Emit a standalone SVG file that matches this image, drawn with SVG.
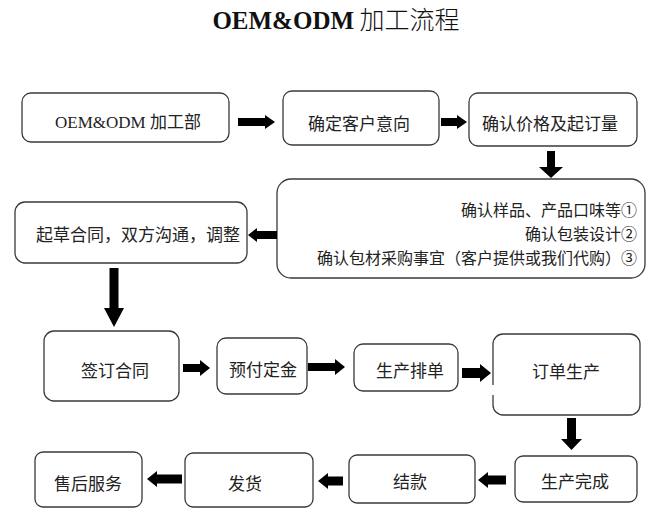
<svg xmlns="http://www.w3.org/2000/svg" width="653" height="512" viewBox="0 0 653 512">
<style>
.box{fill:#fff;stroke:#3a3a3a;stroke-width:1.3}
.t{font-family:"Noto Sans CJK SC","Liberation Serif",sans-serif;font-size:17px;fill:#222;dominant-baseline:central;text-anchor:middle}
.r{text-anchor:end;font-size:16px}
.arr{fill:#000}
</style>
<rect width="653" height="512" fill="#fff"/>
<text x="336" y="29" text-anchor="middle" font-size="25" fill="#111"><tspan font-family="Liberation Serif,serif" font-weight="bold">OEM&amp;ODM</tspan><tspan font-family="Noto Sans CJK SC,sans-serif" font-weight="300"> 加工流程</tspan></text>

<g id="n1"><rect class="box" x="22" y="93" width="207" height="49" rx="9"/><text x="128" y="128" text-anchor="middle" font-size="17" fill="#222"><tspan font-family="Liberation Serif,serif">OEM&amp;ODM </tspan><tspan font-family="Noto Sans CJK SC,sans-serif">加工部</tspan></text></g>
<g id="n2"><rect class="box" x="283" y="91" width="156" height="54" rx="9"/><text class="t" x="359" y="122">确定客户意向</text></g>
<g id="n3"><rect class="box" x="469" y="93" width="168" height="53" rx="9"/><text class="t" x="550" y="122">确认价格及起订量</text></g>
<g id="n4"><rect class="box" x="277" y="179" width="368" height="99" rx="14"/>
<text class="t r" x="637" y="209">确认样品、产品口味等①</text>
<text class="t r" x="637" y="233">确认包装设计②</text>
<text class="t r" x="637" y="257">确认包材采购事宜（客户提供或我们代购）③</text></g>
<g id="n5"><rect class="box" x="15" y="202" width="232" height="61" rx="10"/><text class="t" x="138" y="233">起草合同，双方沟通，调整</text></g>
<g id="n6"><rect class="box" x="44" y="331" width="135" height="70" rx="10"/><text class="t" x="115" y="369">签订合同</text></g>
<g id="n7"><rect class="box" x="217" y="338" width="90" height="56" rx="9"/><text class="t" x="263" y="368">预付定金</text></g>
<g id="n8"><rect class="box" x="354" y="344" width="104" height="47" rx="9"/><text class="t" x="410" y="369">生产排单</text></g>
<g id="n9"><path class="box" d="M503,334 H630 A10,10 0 0 1 640,344 V405 A10,10 0 0 1 630,415 H503 A10,10 0 0 1 493,405 V395 M493,385 V344 A10,10 0 0 1 503,334" /><text class="t" x="566" y="370">订单生产</text></g>
<g id="n10"><rect class="box" x="515" y="456" width="122" height="46" rx="8"/><text class="t" x="575" y="480" font-size="21">生产完成</text></g>
<g id="n11"><rect class="box" x="349" y="455" width="126" height="48" rx="8"/><text class="t" x="410" y="480">结款</text></g>
<g id="n12"><rect class="box" x="185" y="453" width="128" height="54" rx="8"/><text class="t" x="245" y="482">发货</text></g>
<g id="n13"><rect class="box" x="35" y="452" width="107" height="55" rx="8"/><text class="t" x="88" y="482">售后服务</text></g>

<g id="connectors">
<polygon class="arr" points="238,118 265,118 265,115 275,122 265,129 265,126 238,126"/>
<polygon class="arr" points="441,118 457,118 457,115 467,122 457,129 457,126 441,126"/>
<polygon class="arr" points="547,151 555,151 555,167 563,167 551,178 539,167 547,167"/>
<polygon class="arr" points="277,231 257,231 257,228 248,235 257,242 257,239 277,239"/>
<polygon class="arr" points="109.5,268 118.5,268 118.5,308 124,308 114,327 104,308 109.5,308"/>
<polygon class="arr" points="183,364 200,364 200,360 210,368 200,376 200,372 183,372"/>
<polygon class="arr" points="308,363 335,363 335,359 345,367 335,375 335,371 308,371"/>
<polygon class="arr" points="462,368 480,368 480,364 491,373 480,382 480,378 462,378"/>
<polygon class="arr" points="567,418 576,418 576,439 582,439 571.5,450 561,439 567,439"/>
<polygon class="arr" points="506,475.5 488,475.5 488,472 478,480 488,488 488,484.5 506,484.5"/>
<polygon class="arr" points="343,476.5 328,476.5 328,473 318,481 328,489 328,485.5 343,485.5"/>
<polygon class="arr" points="182,474.5 157,474.5 157,471 147,479 157,487 157,483.5 182,483.5"/>
</g>
</svg>
